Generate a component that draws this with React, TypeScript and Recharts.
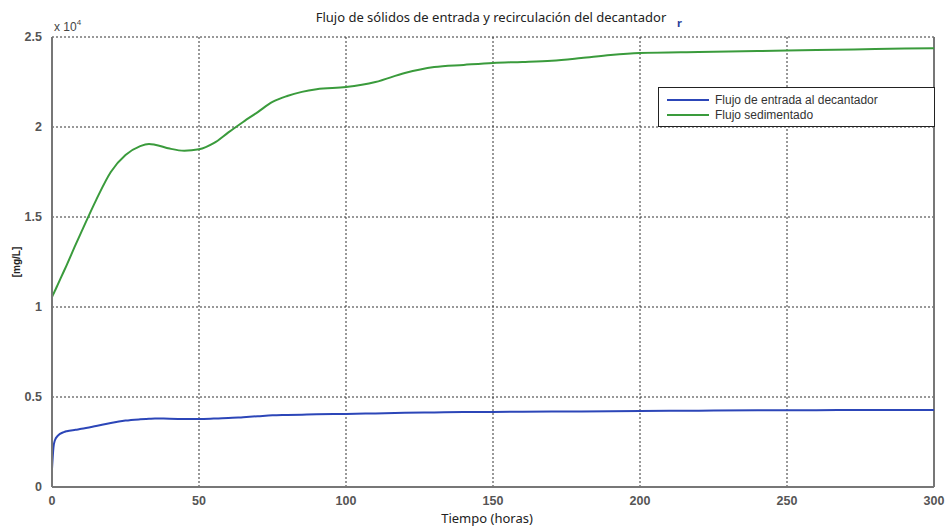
import {
  LineChart,
  Line,
  XAxis,
  YAxis,
  CartesianGrid,
  ReferenceLine,
} from "recharts";

// simulation time (h) and the two solids fluxes (mg/L)
const horas = [
  0, 0.5, 1, 2, 4, 5, 8, 10, 15, 20, 25, 30, 33, 35, 40, 45, 50, 55, 60, 65, 70,
  75, 80, 85, 90, 100, 110, 120, 130, 140, 150, 160, 170, 180, 190, 200, 220,
  240, 260, 280, 300,
];

const flujoEntrada = [
  1000, 2200, 2600, 2850, 3050, 3100, 3180, 3230, 3390, 3560, 3690, 3760, 3790,
  3810, 3790, 3780, 3780, 3800, 3830, 3880, 3930, 3980, 4000, 4020, 4040, 4060,
  4090, 4120, 4140, 4160, 4170, 4180, 4190, 4200, 4210, 4220, 4240, 4260, 4270,
  4280, 4280,
];

const flujoSedimentado = [
  10550, 10730, 10900, 11260, 11970, 12330, 13450, 14170, 15940, 17500, 18440,
  18940, 19060, 19020, 18800, 18680, 18760, 19100, 19700, 20280, 20830, 21390,
  21720, 21950, 22100, 22220, 22500, 23000, 23330, 23450, 23560, 23610, 23680,
  23830, 24000, 24110, 24170, 24220, 24280, 24330, 24380,
];

const xTicks = [0, 50, 100, 150, 200, 250, 300];
const yTicks = [0, 5000, 10000, 15000, 20000, 25000];

const series = [
  { key: "entrada", name: "Flujo de entrada al decantador", color: "#2c46b8" },
  { key: "sedimentado", name: "Flujo sedimentado", color: "#3a9b3c" },
];

const data = horas.map((t, i) => ({
  t,
  entrada: flujoEntrada[i],
  sedimentado: flujoSedimentado[i],
}));

const tickStyle = {
  fontFamily: "Liberation Sans, Arial, sans-serif",
  fontSize: 12.5,
  fill: "#555",
  fontWeight: 600,
};

function LegendBox() {
  return (
    <div
      style={{
        position: "absolute",
        left: 658,
        top: 87,
        width: 277,
        height: 40,
        border: "1px solid #222",
        background: "#fff",
        fontFamily: "Liberation Sans, Arial, sans-serif",
        fontSize: 12,
        color: "#333",
        boxSizing: "border-box",
        padding: "4px 8px",
      }}
    >
      {series.map((s) => (
        <div key={s.key} style={{ display: "flex", alignItems: "center", height: 15 }}>
          <span
            style={{
              display: "inline-block",
              width: 42,
              height: 2,
              background: s.color,
              marginRight: 6,
            }}
          />
          {s.name}
        </div>
      ))}
    </div>
  );
}

export default function App() {
  return (
    <div style={{ position: "absolute", left: 0, top: 0, width: 949, height: 527, background: "#fff" }}>
      <LineChart
        width={949}
        height={527}
        data={data}
        margin={{ top: 37, right: 15, bottom: 0, left: 0 }}
      >
        <CartesianGrid stroke="#333" strokeDasharray="2 2" strokeWidth={1} />
        <XAxis
          dataKey="t"
          type="number"
          domain={[0, 300]}
          ticks={xTicks}
          tick={tickStyle}
          tickLine={false}
          axisLine={{ stroke: "#777", strokeWidth: 2 }}
          height={40}
          tickMargin={3}
        />
        <YAxis
          type="number"
          domain={[0, 25000]}
          ticks={yTicks}
          tick={tickStyle}
          tickLine={false}
          axisLine={{ stroke: "#777", strokeWidth: 2 }}
          width={52}
          tickMargin={4}
          tickFormatter={(v: number) => String(v / 10000)}
        />
        <ReferenceLine x={300} stroke="#777" strokeWidth={2} />
        {series.map((s) => (
          <Line
            key={s.key}
            type="monotone"
            dataKey={s.key}
            name={s.name}
            stroke={s.color}
            strokeWidth={2}
            dot={false}
            isAnimationActive={false}
          />
        ))}
        <text
          x={491}
          y={22}
          textAnchor="middle"
          style={{ fontFamily: "Noto Sans, sans-serif", fontSize: 13, fill: "#222" }}
        >
          Flujo de sólidos de entrada y recirculación del decantador
        </text>
        <text x={677} y={27} style={{ fontFamily: "Noto Sans, sans-serif", fontSize: 11, fontWeight: 700, fill: "#2a3f9a" }}>
          r
        </text>
        <text
          x={54}
          y={31}
          style={{ fontFamily: "Liberation Sans, Arial, sans-serif", fontSize: 12, fill: "#444" }}
        >
          x 10
          <tspan dy={-6} fontSize={8}>
            4
          </tspan>
        </text>
        <text
          x={487}
          y={523}
          textAnchor="middle"
          style={{ fontFamily: "Noto Sans, sans-serif", fontSize: 13, fill: "#222" }}
        >
          Tiempo (horas)
        </text>
        <text
          x={20}
          y={262}
          textAnchor="middle"
          transform="rotate(-90 20 262)"
          style={{
            fontFamily: "Liberation Sans, Arial, sans-serif",
            fontSize: 10,
            fontWeight: 700,
            fill: "#222",
          }}
        >
          [mg/L]
        </text>
      </LineChart>
      <LegendBox />
    </div>
  );
}
